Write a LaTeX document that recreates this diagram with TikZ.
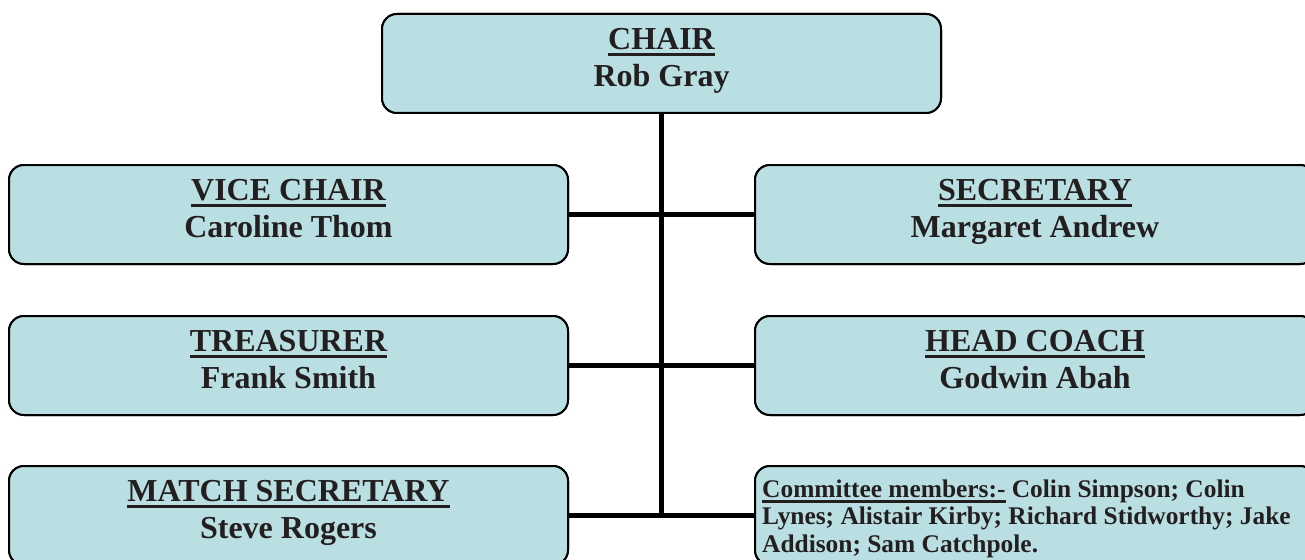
\documentclass[tikz,border=0pt]{standalone}
\usepackage{fontspec}
\setmainfont{Liberation Serif}
\definecolor{boxfill}{HTML}{BADFE3}
\definecolor{ink}{HTML}{231F20}
\newcommand\ulx[1]{\setbox0\hbox{#1}\rlap{\rule[-0.22em]{\wd0}{0.1em}}\box0\relax}
\newcommand\lstrut{\rule[-0.22em]{0pt}{0.9em}}
\begin{document}
\begin{tikzpicture}[x=1pt,y=-1pt,
  orgbox/.style={draw=black,line width=2pt,fill=boxfill,rounded corners=15pt,minimum width=559pt,minimum height=99pt,inner sep=0pt},
  widebox/.style={orgbox,minimum width=560pt},
  lbl/.style={align=center,text=ink,font=\fontsize{32}{37.5}\selectfont\bfseries,inner sep=0pt},
  conn/.style={line width=5pt,draw=black}]
\useasboundingbox (0,0) rectangle (1305,559);
\clip (0,0) rectangle (1305,559);
% boxes
\node[orgbox] (chair) at (661.5,63.5) {};
\node[orgbox] (vc) at (288.5,214.5) {};
\node[widebox] (sec) at (1035,214.5) {};
\node[orgbox] (tr) at (288.5,365.5) {};
\node[widebox] (hc) at (1035,365.5) {};
\node[orgbox] (ms) at (288.5,515.5) {};
\node[widebox] (cm) at (1035,515.5) {};
\coordinate (bot) at (661.5,515.5);
% connectors
\draw[conn] (chair.south) -- (bot);
\draw[conn] (vc.east) -- (sec.west);
\draw[conn] (tr.east) -- (hc.west);
\draw[conn] (ms.east) -- (cm.west);
% redraw boxes over line ends
\node[orgbox] at (chair.center) {};
\node[orgbox] at (vc.center) {};
\node[widebox] at (sec.center) {};
\node[orgbox] at (tr.center) {};
\node[widebox] at (hc.center) {};
\node[orgbox] at (ms.center) {};
\node[widebox] at (cm.center) {};
% labels
\node[lbl] (chairT) at ([yshift=3pt]chair.center) {\lstrut\ulx{CHAIR}\\\lstrut Rob Gray};
\node[lbl] (vcT) at ([yshift=3pt]vc.center) {\lstrut\ulx{VICE CHAIR}\\\lstrut Caroline Thom};
\node[lbl] (secT) at ([yshift=3pt]sec.center) {\lstrut\ulx{SECRETARY}\\\lstrut Margaret Andrew};
\node[lbl] (trT) at ([yshift=3pt]tr.center) {\lstrut\ulx{TREASURER}\\\lstrut Frank Smith};
\node[lbl] (hcT) at ([yshift=3pt]hc.center) {\lstrut\ulx{HEAD COACH}\\\lstrut Godwin Abah};
\node[lbl] (msT) at ([yshift=3pt]ms.center) {\lstrut\ulx{MATCH SECRETARY}\\\lstrut Steve Rogers};
\node[anchor=north west,align=left,text=ink,inner sep=0pt,font=\fontsize{25.4}{27.5}\selectfont\bfseries] (cmT) at (762,474)
  {\rule{0pt}{0.9em}\ulx{Committee members:-} Colin Simpson; Colin\\Lynes; Alistair Kirby; Richard Stidworthy; Jake\\Addison; Sam Catchpole.};
\end{tikzpicture}
\end{document}
